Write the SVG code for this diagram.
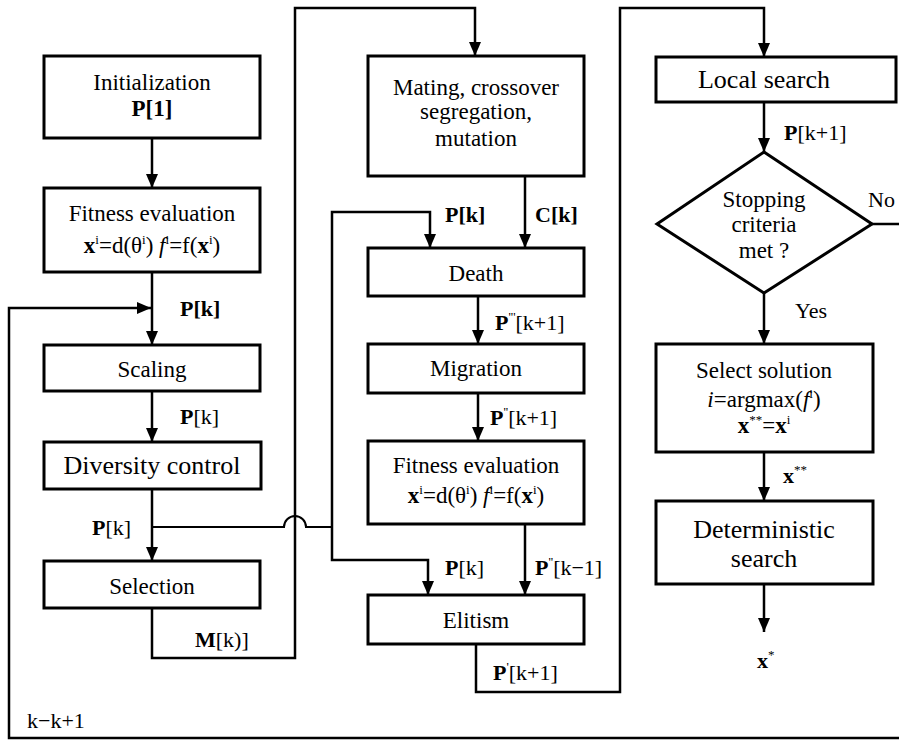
<svg xmlns="http://www.w3.org/2000/svg" width="899" height="741" viewBox="0 0 899 741">
<style>
.box{fill:#fff;stroke:#000;stroke-width:3}
.ln{fill:none;stroke:#000;stroke-width:2.5}
text{font-family:Liberation Serif, DejaVu Serif, Noto Serif, Times, serif;fill:#000;font-size:23px}
.c{text-anchor:middle}
.big{font-size:26px}
.lb{font-size:22px}
.b{font-weight:bold}
.sup{font-size:13px}
</style>
<defs>
<marker id="ah" markerUnits="userSpaceOnUse" markerWidth="14" markerHeight="12" refX="14" refY="6" orient="auto">
<path d="M0,0 L14,6 L0,12 z" fill="#000"/>
</marker>
</defs>
<rect width="899" height="741" fill="#fff"/>
<g id="connectors">
<path class="ln" d="M152,138 V188" marker-end="url(#ah)"/>
<path class="ln" d="M152,272 V345" marker-end="url(#ah)"/>
<path class="ln" d="M872,224 H905 V738 H9 V308 H151" marker-end="url(#ah)"/>
<path class="ln" d="M152,391 V442" marker-end="url(#ah)"/>
<path class="ln" d="M152,489 V561" marker-end="url(#ah)"/>
<path class="ln" style="stroke-width:2" d="M152,527 H284 A11,11 0 0 1 306,527 H332"/>
<path class="ln" d="M332,527 V212 H430 V248" marker-end="url(#ah)"/>
<path class="ln" d="M332,527 V560 H428 V595" marker-end="url(#ah)"/>
<path class="ln" d="M152,608 V658 H295 V8 H475 V56" marker-end="url(#ah)"/>
<path class="ln" d="M525,176 V248" marker-end="url(#ah)"/>
<path class="ln" d="M478,296 V344" marker-end="url(#ah)"/>
<path class="ln" d="M478,393 V441" marker-end="url(#ah)"/>
<path class="ln" d="M525,524 V595" marker-end="url(#ah)"/>
<path class="ln" d="M476,644 V692 H620 V8 H764 V57" marker-end="url(#ah)"/>
<path class="ln" d="M764,102 V152" marker-end="url(#ah)"/>
<path class="ln" d="M764,293 V344" marker-end="url(#ah)"/>
<path class="ln" d="M764,452 V501" marker-end="url(#ah)"/>
<path class="ln" d="M764,584 V632" marker-end="url(#ah)"/>
</g>
<g id="labels">
<text class="lb b" x="180" y="316">P[k]</text>
<text class="lb" x="180" y="424"><tspan class="b">P</tspan>[k]</text>
<text class="lb" x="92" y="535"><tspan class="b">P</tspan>[k]</text>
<text class="lb" x="195" y="647"><tspan class="b">M</tspan>[k)]</text>
<text class="lb" x="27" y="728">k−k+1</text>
<text class="lb b" x="445" y="222">P[k]</text>
<text class="lb b" x="535" y="222">C[k]</text>
<text class="lb" x="495" y="330"><tspan class="b">P</tspan><tspan class="sup" dy="-9">'''</tspan><tspan dy="9">[k+1]</tspan></text>
<text class="lb" x="490" y="425"><tspan class="b">P</tspan><tspan class="sup" dy="-9">''</tspan><tspan dy="9">[k+1]</tspan></text>
<text class="lb" x="445" y="575"><tspan class="b">P</tspan>[k]</text>
<text class="lb" x="535" y="575"><tspan class="b">P</tspan><tspan class="sup" dy="-9">''</tspan><tspan dy="9">[k−1]</tspan></text>
<text class="lb" x="493" y="680"><tspan class="b">P</tspan><tspan class="sup" dy="-9">'</tspan><tspan dy="9">[k+1]</tspan></text>
<text class="lb" x="784" y="140"><tspan class="b">P</tspan>[k+1]</text>
<text class="lb" x="868" y="207">No</text>
<text class="lb" x="795" y="318">Yes</text>
<text class="lb" x="783" y="483"><tspan class="b">x</tspan><tspan class="sup" dy="-9">**</tspan></text>
<text class="lb" x="757" y="668"><tspan class="b">x</tspan><tspan class="sup" dy="-9">*</tspan></text>
</g>
<g id="init">
<rect class="box" x="44" y="56" width="216" height="82"/>
<text class="c" x="152" y="90">Initialization</text>
<text class="c b" x="152" y="116">P[1]</text>
</g>
<g id="fitness1">
<rect class="box" x="44" y="188" width="216" height="84"/>
<text class="c" x="152" y="221">Fitness evaluation</text>
<text class="c" x="152" y="253"><tspan class="b">x</tspan><tspan class="sup" dy="-9">i</tspan><tspan dy="9">=d(θ</tspan><tspan class="sup" dy="-9">i</tspan><tspan dy="9">)  </tspan><tspan font-style="italic">f</tspan><tspan class="sup" dy="-9">i</tspan><tspan dy="9">=f(</tspan><tspan class="b">x</tspan><tspan class="sup" dy="-9">i</tspan><tspan dy="9">)</tspan></text>
</g>
<g id="scaling">
<rect class="box" x="44" y="345" width="216" height="46"/>
<text class="c" x="152" y="377">Scaling</text>
</g>
<g id="diversity">
<rect class="box" x="44" y="442" width="217" height="47"/>
<text class="c big" x="152" y="474">Diversity control</text>
</g>
<g id="selection">
<rect class="box" x="44" y="561" width="216" height="47"/>
<text class="c" x="152" y="594">Selection</text>
</g>
<g id="mating">
<rect class="box" x="368" y="56" width="216" height="120"/>
<text class="c" x="476" y="95">Mating, crossover</text>
<text class="c" x="476" y="119">segregation,</text>
<text class="c" x="476" y="146">mutation</text>
</g>
<g id="death">
<rect class="box" x="368" y="248" width="216" height="48"/>
<text class="c" x="476" y="281">Death</text>
</g>
<g id="migration">
<rect class="box" x="368" y="344" width="216" height="49"/>
<text class="c" x="476" y="376">Migration</text>
</g>
<g id="fitness2">
<rect class="box" x="368" y="441" width="216" height="83"/>
<text class="c" x="476" y="473">Fitness evaluation</text>
<text class="c" x="476" y="503"><tspan class="b">x</tspan><tspan class="sup" dy="-9">i</tspan><tspan dy="9">=d(θ</tspan><tspan class="sup" dy="-9">i</tspan><tspan dy="9">)  </tspan><tspan font-style="italic">f</tspan><tspan class="sup" dy="-9">i</tspan><tspan dy="9">=f(</tspan><tspan class="b">x</tspan><tspan class="sup" dy="-9">i</tspan><tspan dy="9">)</tspan></text>
</g>
<g id="elitism">
<rect class="box" x="368" y="595" width="216" height="49"/>
<text class="c" x="476" y="628">Elitism</text>
</g>
<g id="local">
<rect class="box" x="656" y="57" width="240" height="45"/>
<text class="c big" x="764" y="88">Local search</text>
</g>
<g id="stop">
<polygon class="box" points="764,152 872,224 764,293 657,224"/>
<text class="c" x="764" y="207">Stopping</text>
<text class="c" x="764" y="232">criteria</text>
<text class="c" x="764" y="258">met ?</text>
</g>
<g id="select">
<rect class="box" x="656" y="344" width="217" height="108"/>
<text class="c" x="764" y="378">Select solution</text>
<text class="c" x="764" y="407"><tspan font-style="italic">i</tspan>=argmax(<tspan font-style="italic">f</tspan><tspan class="sup" dy="-9">i</tspan><tspan dy="9">)</tspan></text>
<text class="c" x="764" y="433"><tspan class="b">x</tspan><tspan class="sup" dy="-9">**</tspan><tspan dy="9">=</tspan><tspan class="b">x</tspan><tspan class="sup" dy="-9">i</tspan></text>
</g>
<g id="deterministic">
<rect class="box" x="656" y="501" width="217" height="83"/>
<text class="c big" x="764" y="538">Deterministic</text>
<text class="c big" x="764" y="567">search</text>
</g>
</svg>
